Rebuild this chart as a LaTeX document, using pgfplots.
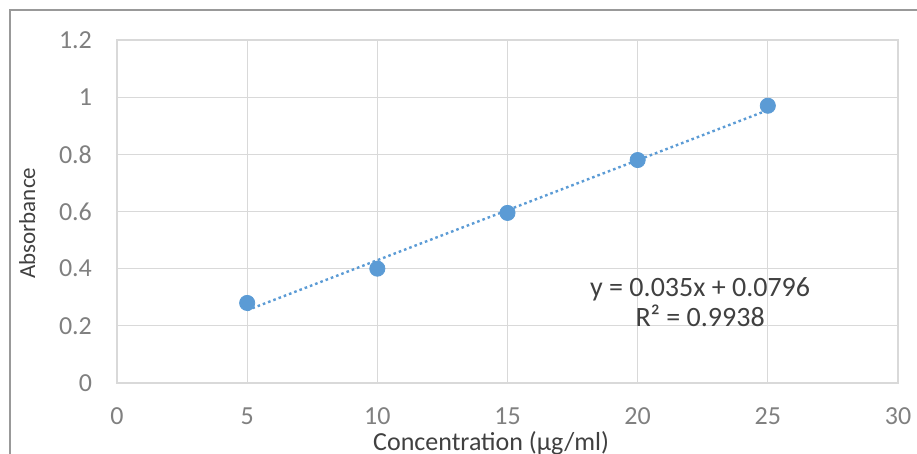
\documentclass[border=0pt]{standalone}
\usepackage{fontspec}
\setmainfont{Carlito}
\usepackage{pgfplots}
\pgfplotsset{compat=1.18}
\definecolor{ptblue}{HTML}{5B9BD5}
\definecolor{gridgray}{HTML}{D9D9D9}
\definecolor{ticktext}{HTML}{808080}
\definecolor{labtext}{HTML}{404040}
\begin{document}
\begin{tikzpicture}
\useasboundingbox (0,0) rectangle (458.5pt,227pt);
% outer chart frame (left and top edges visible)
\draw[line width=1.2pt, color=gray!80] (5pt,-2pt) -- (5pt,222pt) -- (462pt,222pt);
\begin{axis}[
    at={(58.5pt,35.5pt)}, anchor=south west,
    scale only axis,
    width=390.5pt, height=171.5pt,
    xmin=0, xmax=30, ymin=0, ymax=1.2,
    xtick={0,5,...,30},
    ytick={0,0.2,...,1.2},
    yticklabels={0,0.2,0.4,0.6,0.8,1,1.2},
    grid=major,
    grid style={gridgray, line width=0.6pt},
    axis line style={gridgray, line width=0.6pt},
    tick style={draw=none},
    /pgf/number format/assume math mode=true,
    ticklabel style={font=\fontsize{13}{15}\selectfont, text=ticktext},
    xticklabel style={yshift=-9pt},
    yticklabel style={xshift=-9pt},
    xlabel={Concentration (µg/ml)},
    ylabel={Absorbance},
    xlabel style={at={(axis description cs:0.479,-0.175)}, anchor=center,
        font=\fontsize{13}{15}\selectfont, text=labtext},
    ylabel style={at={(axis description cs:-0.115,0.466)}, anchor=center,
        font=\fontsize{11.5}{13}\selectfont, text=labtext},
]
% linear trendline y = 0.035x + 0.0796
\addplot[ptblue, line width=1.2pt, dash pattern=on 1.3pt off 1.5pt, forget plot]
    coordinates {(5,0.2546) (25,0.9546)};
\addplot[only marks, mark=*, mark size=3.8pt, mark options={fill=ptblue, draw=ptblue}]
    coordinates {(5,0.28) (10,0.40) (15,0.595) (20,0.78) (25,0.97)};
\node[text=labtext, font=\fontsize{14}{16}\selectfont, align=center, anchor=center]
    at (axis cs:22.4,0.283) {y = 0.035x + 0.0796\\[-1pt]R² = 0.9938};
\end{axis}
\end{tikzpicture}
\end{document}
